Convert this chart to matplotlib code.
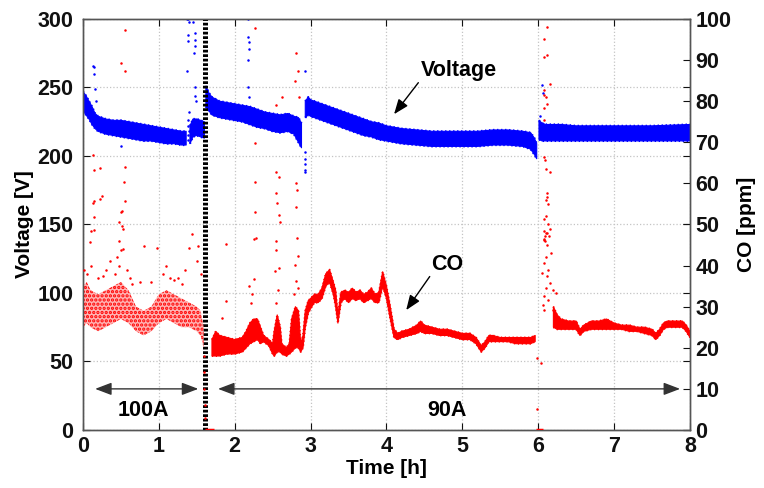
import numpy as np
import matplotlib
matplotlib.use("Agg")
import matplotlib.pyplot as plt

plt.rcParams['font.family'] = ['Liberation Sans', 'DejaVu Sans']
plt.rcParams['font.weight'] = 'bold'
plt.rcParams['hatch.linewidth'] = 1.6

nan = np.nan

# ---------------- Voltage dense band (V) ----------------
volt_t = [0.00, 0.04, 0.08, 0.12, 0.16, 0.20, 0.30, 0.40, 0.50, 0.60, 0.70, 0.80, 0.90, 1.00, 1.10, 1.20, 1.30, 1.36, nan,
          1.41, 1.45, 1.50, 1.55, 1.60, nan,
          1.62, 1.66, 1.70, 1.80, 1.90, 2.00, 2.10, 2.20, 2.30, 2.40, 2.50, 2.60, 2.70, 2.78, 2.84, 2.88, nan,
          2.93, 2.97, 3.00, 3.10, 3.20, 3.30, 3.40, 3.50, 3.60, 3.70, 3.80, 3.90, 4.00, 4.20, 4.40, 4.60, 4.80,
          5.00, 5.20, 5.40, 5.60, 5.80, 5.90, 5.95, 5.98, nan,
          6.01, 6.05, 6.10, 6.30, 6.50, 7.00, 7.50, 8.00]
volt_lo = [233, 230, 227, 223, 220, 218, 216, 215, 214, 213, 212, 211, 211, 210, 209, 209, 208, 208, nan,
           209, 214, 215, 214, 213, nan,
           236, 233, 230, 228, 227, 226, 225, 223, 221, 220, 218, 217, 218, 216, 210, 206, nan,
           228, 230, 229, 227, 225, 223, 221, 219, 217, 215, 214, 212, 211, 209, 208, 207, 207,
           207, 207, 208, 208, 207, 205, 201, 198, nan,
           212, 211, 211, 211, 211, 211, 211, 211]
volt_hi = [247, 244, 240, 236, 231, 229, 227, 226, 226, 225, 224, 223, 222, 221, 220, 219, 218, 218, nan,
           222, 227, 227, 226, 225, nan,
           251, 246, 243, 240, 239, 238, 237, 236, 234, 232, 231, 230, 231, 229, 228, 224, nan,
           240, 243, 241, 239, 237, 235, 233, 231, 229, 227, 225, 224, 222, 220, 219, 218, 218,
           218, 218, 219, 219, 218, 217, 213, 209, nan,
           226, 224, 223, 223, 222, 222, 222, 223]

# Voltage scattered points (h, V)
volt_out_t = [0.13, 0.15, 0.15, 0.16, 0.17, 0.50, 1.37, 1.38, 1.38, 1.39, 1.40, 1.45, 1.46, 1.47, 1.47, 1.48,
              1.37, 1.48, 1.47, 1.49, 1.38, 1.39, 1.40, 1.38, 1.39, 1.40,
              2.18, 2.18, 2.19, 2.19, 2.18, 2.18, 2.19, 2.92, 2.92, 2.92, 2.93, 2.92, 2.93,
              6.05, 6.06, 6.03]
volt_out_v = [266, 265, 260, 249, 240, 207, 300, 300, 288, 284, 298, 298, 275, 290, 285, 280,
              262, 250, 244, 240, 212, 215, 218, 222, 226, 232,
              300, 287, 283, 278, 270, 250, 243, 262, 203, 198, 194, 190, 188,
              252, 246, 229]

# ---------------- CO dense band (ppm) ----------------
co_t = [0.00, 0.05, 0.10, 0.20, 0.30, 0.40, 0.50, 0.60, 0.70, 0.80, 0.90, 1.00, 1.10, 1.20, 1.30, 1.40, 1.50, 1.55, 1.59, nan,
        1.70, 1.75, 1.80, 1.90, 2.00, 2.10, 2.15, 2.20, 2.25, 2.30, 2.34, 2.38, 2.45, 2.50, 2.52, 2.56, 2.60, 2.62,
        2.68, 2.72, 2.75, 2.80, 2.84, 2.87, 2.90, 2.93, 2.97, 3.00, 3.05, 3.10, 3.15, 3.20, 3.25, 3.30, 3.33, 3.36,
        3.40, 3.45, 3.50, 3.55, 3.60, 3.65, 3.70, 3.75, 3.80, 3.85, 3.90, 3.95, 4.00, 4.05, 4.10, 4.15, 4.20, 4.30,
        4.40, 4.45, 4.50, 4.60, 4.70, 4.80, 4.90, 5.00, 5.10, 5.18, 5.25, 5.30, 5.35, 5.40, 5.50, 5.60, 5.70, 5.80,
        5.90, 5.96, nan,
        6.20, 6.25, 6.30, 6.40, 6.50, 6.55, 6.60, 6.70, 6.80, 6.90, 7.00, 7.10, 7.20, 7.30, 7.40, 7.50, 7.55, 7.60,
        7.65, 7.70, 7.80, 7.90, 7.95, 8.00]
co_lo = [25, 26, 25, 24, 25, 26, 27, 26, 24, 23, 24, 26, 27, 26, 25, 25, 24, 23, 20, nan,
         18, 18, 18, 18.5, 18.5, 19, 20, 21, 21.5, 22, 21, 21.5, 20.5, 18.5, 18, 19, 19, 18.5,
         18, 18.5, 19, 20, 20, 19, 20, 25, 28.5, 29.5, 31, 31, 32, 35, 36, 33, 30, 26,
         31, 32, 31, 32, 31.5, 32, 31, 31.5, 32, 31, 31, 35, 32, 27, 22.5, 22, 22.5, 23,
         23.5, 24, 23.5, 23.5, 23, 23, 22.5, 22, 22, 21, 19, 20, 21.5, 21.5, 21.5, 21.5, 21, 21,
         21, 21.5, nan,
         25, 24.5, 24.5, 24.5, 24.5, 23, 24, 24.5, 24.5, 24.5, 24.5, 24.5, 24, 24, 23.5, 23, 22, 23,
         24.5, 25, 25, 25, 24, 22.5]
co_hi = [35, 36, 34, 33, 34, 35, 36, 34, 30, 29, 30, 33, 34, 33, 32, 31, 30, 29, 25, nan,
         22, 24, 23, 22.5, 22, 22.5, 24, 26, 27, 27, 25, 23, 22, 21, 24, 28, 25, 21,
         20, 21, 27, 30, 29, 21, 23, 29, 31.5, 32, 33, 33, 34.5, 38, 39, 36, 34, 28,
         33.5, 34, 33.5, 34.5, 33.5, 34, 33, 33.5, 34.5, 33, 33.5, 38.5, 35, 30, 24.5, 23.5, 24, 24.5,
         25.5, 26.5, 25.5, 25, 24.5, 24.5, 24, 23.5, 23.5, 22.5, 20.5, 21.5, 23, 23, 22.5, 22.5, 22.5, 22.5,
         22.5, 23, nan,
         30, 28, 27, 26.5, 26.5, 24.5, 25.5, 26.5, 26.5, 27, 26, 25.5, 25.5, 25, 25, 24.5, 23.5, 24.5,
         26, 26.5, 26.5, 26.5, 25.5, 24]

# CO scattered points (h, ppm)
co_out_t = [0.55, 0.50, 0.55, 0.13, 0.15, 0.23, 0.55, 0.54, 0.13, 0.23, 0.50, 0.48, 0.52, 0.48, 0.14, 0.09,
            0.50, 0.53, 0.145, 0.25, 0.55, 0.52, 0.15, 0.10, 0.53, 1.44, 1.52, 0.80, 0.97, 1.40,
            0.05, 0.10, 0.20, 0.30, 0.35, 0.42, 0.47, 0.58, 0.62, 0.75, 1.05, 1.10, 1.25, 1.35, 1.50, 1.55,
            0.65, 0.90, 1.20, 0.02, 0.27, 0.45, 1.15, 1.30,
            1.60, 1.60, 1.60, 1.61, 1.61,
            1.88, 1.89, 1.83, 2.28, 2.27, 2.27, 2.27, 2.27, 2.25, 2.26, 2.19, 2.21, 2.23,
            2.55, 2.62, 2.54, 2.58, 2.55, 2.56, 2.59, 2.60, 2.54, 2.55, 2.53, 2.59, 2.57, 2.55,
            2.81, 2.84, 2.79, 2.85, 2.81, 2.82, 2.81, 2.82, 2.80, 2.83, 2.81, 2.78, 2.84,
            5.99, 6.04, 5.99,
            6.12, 6.07, 6.07, 6.12, 6.16, 6.08, 6.08, 6.10, 6.11, 6.08, 6.08, 6.08, 6.09, 6.10, 6.16,
            6.12, 6.12, 6.10, 6.13, 6.08, 6.10, 6.13, 6.08, 6.11, 6.15, 6.07, 6.09, 6.09,
            6.10, 6.14, 6.08, 6.12, 6.17, 6.10, 6.08, 6.13, 6.05, 6.12, 6.19, 6.23, 6.10, 6.08, 6.13,
            6.08, 6.19, 6.06, 6.16]
co_out_p = [97.3, 89.3, 87.3, 67.0, 63.3, 63.7, 64.0, 60.3, 55.3, 56.3, 53.0, 50.7, 49.7, 46.0, 48.7, 45.7,
            43.7, 44.0, 55.7, 57.0, 55.7, 53.3, 51.7, 48.3, 49.0, 47.7, 44.7, 44.7, 44.3, 44.3,
            38, 40, 37, 39, 41, 38, 40, 39, 37, 36, 38, 40, 37, 39, 41, 38,
            35.5, 36, 36.5, 39, 37.5, 42, 37, 35.5,
            18, 14, 10, 6, 3,
            45.2, 31.5, 27.2, 46.7, 97.7, 69.8, 60.3, 53.0, 46.5, 36.7, 35.0, 31.0, 33.0,
            79.0, 81.0, 62.8, 61.6, 57.6, 55.2, 52.3, 50.5, 45.9, 43.9, 38.6, 39.4, 34.0, 31.0,
            91.7, 87.3, 85.0, 81.0, 60.0, 58.5, 54.3, 46.6, 40.2, 42.3, 36.2, 33.0, 34.5,
            17.4, 16.2, 5.1,
            98.1, 95.1, 90.7, 91.2, 84.3, 82.6, 81.5, 81.0, 79.3, 78.3, 75.5, 66.5, 65.7, 63.6, 62.8,
            57.6, 56.8, 56.0, 55.0, 51.4, 52.0, 50.0, 48.4, 48.0, 49.0, 46.4, 47.2, 46.0,
            47.9, 47.1, 46.2, 45.0, 43.0, 42.2, 40.6, 39.0, 38.2, 37.4, 34.1, 33.3, 34.5, 32.5, 31.6,
            29.2, 29.2, 30.4, 35.7]

# CO readings at zero (h start, h end)
co_zero_start = [1.61, 5.97]
co_zero_end = [1.73, 6.06]

# time span where the CO readings are loosely scattered (100 A period)
co_sparse_end = 1.60

# Load-current change and annotations
switch_time = 1.61
x_ticks = [0, 1, 2, 3, 4, 5, 6, 7, 8]
v_ticks = [0, 50, 100, 150, 200, 250, 300]
co_ticks = [0, 10, 20, 30, 40, 50, 60, 70, 80, 90, 100]

BLUE = '#0000ff'
RED = '#ff0000'

fig = plt.figure(figsize=(7.64, 4.88), dpi=100)
ax = fig.add_axes([0.1086, 0.1189, 0.7945, 0.8422])
ax2 = ax.twinx()

ax.set_xlim(0, 8)
ax.set_ylim(0, 300)
ax2.set_ylim(0, 100)

ax.grid(True, color='#c4c4c4', linestyle=':', linewidth=0.9)
ax.set_axisbelow(True)

# voltage
ax.fill_between(volt_t, volt_lo, volt_hi, color=BLUE, linewidth=0.8, edgecolor=BLUE, zorder=2)
ax.plot(volt_t, volt_lo, color=BLUE, lw=1.6, ls=(0, (0.6, 1.2)), zorder=2)
ax.plot(volt_t, volt_hi, color=BLUE, lw=1.6, ls=(0, (0.6, 1.2)), zorder=2)
ax.plot(volt_out_t, volt_out_v, 'o', color=BLUE, ms=1.8, mew=0, zorder=3)

# switch line
ax.axvline(switch_time, color='black', linewidth=3.6, linestyle=(0, (0.55, 0.35)), zorder=4)

# CO
cot = np.array(co_t, dtype=float)
colo = np.array(co_lo, dtype=float)
cohi = np.array(co_hi, dtype=float)
sparse = cot < co_sparse_end
dense = ~sparse
lo_d = np.where(dense, colo, nan)
hi_d = np.where(dense, cohi, nan)
lo_s = np.where(sparse, colo, nan)
hi_s = np.where(sparse, cohi, nan)
ax2.fill_between(cot, lo_d, hi_d, color=RED, linewidth=0.8, edgecolor=RED, zorder=2)
ax2.plot(cot, lo_d, color=RED, lw=1.4, ls=(0, (0.6, 1.4)), zorder=2)
ax2.plot(cot, hi_d, color=RED, lw=1.4, ls=(0, (0.6, 1.4)), zorder=2)
ax2.fill_between(cot, lo_s, hi_s, facecolor='#ffb4b4', edgecolor=RED, hatch='....', linewidth=0, zorder=2)
ax2.plot(co_out_t, co_out_p, 'o', color=RED, ms=1.8, mew=0, zorder=3)
ax2.hlines([0, 0], co_zero_start, co_zero_end, color=RED, linewidth=2.5, zorder=3)

# ticks
tick_font = dict(fontsize=15.5, fontweight='bold')
ax.set_xticks(x_ticks)
ax.set_yticks(v_ticks)
ax2.set_yticks(co_ticks)
ax.set_xticklabels([str(v) for v in x_ticks], **tick_font)
ax.set_yticklabels([str(v) for v in v_ticks], **tick_font)
ax2.set_yticklabels([str(v) for v in co_ticks], **tick_font)
ax.tick_params(direction='in', length=5, width=0.8, top=True, right=True, pad=4, colors='#111111')
ax.tick_params(axis='y', pad=7)
ax2.tick_params(direction='in', length=5, width=0.8, pad=4, colors='#111111')
for a in (ax, ax2):
    for s in a.spines.values():
        s.set_color('#555555')
        s.set_linewidth(1.0)

ax.set_xlabel('Time [h]', fontsize=15, fontweight='bold', labelpad=2)
ax.set_ylabel('Voltage [V]', fontsize=15, fontweight='bold', labelpad=2)
ax2.set_ylabel('CO [ppm]', fontsize=15, fontweight='bold', labelpad=4)

# annotations
arrow_kw = dict(arrowstyle='-|>,head_length=0.9,head_width=0.35', color='black', lw=1.0,
                shrinkA=0, shrinkB=0)
ax.annotate('', xy=(4.10, 230.5), xytext=(4.42, 253.5), arrowprops=arrow_kw, zorder=6)
ax.text(4.95, 262.5, 'Voltage', fontsize=15.5, fontweight='bold', ha='center', va='center', zorder=6)
ax.annotate('', xy=(4.26, 87.5), xytext=(4.57, 112), arrowprops=arrow_kw, zorder=6)
ax.text(4.80, 120.5, 'CO', fontsize=15.5, fontweight='bold', ha='center', va='center', zorder=6)

darrow = dict(arrowstyle='<|-|>,head_length=1.0,head_width=0.38', color='#333333', lw=1.0,
              shrinkA=0, shrinkB=0)
ax.annotate('', xy=(0.16, 30), xytext=(1.52, 30), arrowprops=darrow, zorder=6)
ax.text(0.79, 14.5, '100A', fontsize=15.5, fontweight='bold', ha='center', va='center', zorder=6)
ax.annotate('', xy=(1.78, 30), xytext=(7.87, 30), arrowprops=darrow, zorder=6)
ax.text(4.80, 14.0, '90A', fontsize=15.5, fontweight='bold', ha='center', va='center', zorder=6)

fig.savefig('out.png', dpi=100)
